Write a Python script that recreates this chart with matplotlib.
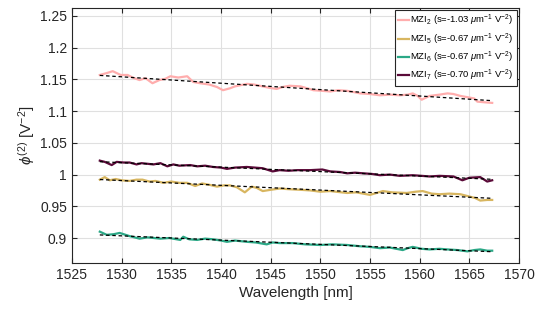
import numpy as np
import matplotlib.pyplot as plt

plt.rcParams['font.family'] = ['Liberation Sans', 'DejaVu Sans']
plt.rcParams['mathtext.fontset'] = 'custom'
plt.rcParams['mathtext.rm'] = 'Liberation Sans'
plt.rcParams['mathtext.it'] = 'Liberation Sans:italic'

# MZI2
wl_2 = [1527.8, 1528.5, 1529.1, 1529.9, 1530.6, 1531.1, 1531.8, 1532.4, 1533.1, 1533.8,
        1534.4, 1534.9, 1535.7, 1536.6, 1537.2, 1537.9, 1538.8, 1539.6, 1540.2, 1540.9,
        1541.4, 1542.0, 1542.6, 1543.3, 1543.9, 1544.8, 1545.6, 1546.2, 1546.9, 1548.0,
        1548.7, 1549.3, 1550.2, 1551.0, 1551.8, 1552.7, 1553.4, 1554.0, 1555.0, 1556.0,
        1557.0, 1558.0, 1558.8, 1559.3, 1559.8, 1560.2, 1561.0, 1562.0, 1562.8, 1563.4,
        1564.1, 1564.8, 1565.5, 1565.8, 1566.5, 1567.3]
phi_2 = [1.157, 1.160, 1.163, 1.157, 1.157, 1.153, 1.149, 1.152, 1.144, 1.149,
         1.151, 1.155, 1.153, 1.155, 1.146, 1.144, 1.142, 1.138, 1.133, 1.136,
         1.139, 1.141, 1.143, 1.142, 1.140, 1.137, 1.135, 1.138, 1.140, 1.139,
         1.136, 1.133, 1.132, 1.131, 1.133, 1.132, 1.130, 1.128, 1.127, 1.125,
         1.126, 1.125, 1.126, 1.128, 1.124, 1.118, 1.124, 1.126, 1.128, 1.127,
         1.124, 1.122, 1.120, 1.115, 1.114, 1.113]

# MZI5
wl_5 = [1527.8, 1528.3, 1528.8, 1529.4, 1530.0, 1530.8, 1531.5, 1532.1, 1532.8, 1533.4,
        1534.2, 1535.0, 1535.8, 1536.6, 1537.4, 1538.1, 1538.8, 1539.6, 1540.3, 1540.9,
        1541.6, 1542.4, 1543.1, 1543.6, 1544.2, 1545.0, 1545.9, 1546.8, 1548.0, 1549.0,
        1550.0, 1551.0, 1552.7, 1553.6, 1555.0, 1556.3, 1557.2, 1558.7, 1559.6, 1560.3,
        1561.2, 1562.0, 1563.0, 1564.1, 1565.1, 1565.6, 1566.1, 1566.8, 1567.3]
phi_5 = [0.992, 0.996, 0.991, 0.993, 0.991, 0.990, 0.992, 0.992, 0.989, 0.990,
         0.987, 0.989, 0.987, 0.987, 0.982, 0.986, 0.984, 0.981, 0.983, 0.983,
         0.980, 0.972, 0.981, 0.979, 0.974, 0.976, 0.978, 0.977, 0.976, 0.975,
         0.973, 0.974, 0.971, 0.972, 0.968, 0.974, 0.972, 0.971, 0.973, 0.974,
         0.970, 0.969, 0.970, 0.969, 0.965, 0.963, 0.959, 0.960, 0.960]

# MZI6
wl_6 = [1527.8, 1528.5, 1529.2, 1529.8, 1530.8, 1531.8, 1532.6, 1533.9, 1534.8, 1535.9,
        1536.2, 1536.8, 1537.6, 1538.4, 1539.2, 1540.0, 1540.6, 1541.4, 1542.6, 1543.5,
        1544.6, 1545.2, 1545.9, 1547.2, 1548.5, 1550.0, 1551.2, 1552.7, 1554.0, 1555.0,
        1556.0, 1557.0, 1558.3, 1558.8, 1559.3, 1560.2, 1561.0, 1562.0, 1562.8, 1563.8,
        1564.8, 1565.5, 1566.1, 1566.8, 1567.3]
phi_6 = [0.910, 0.905, 0.906, 0.908, 0.903, 0.899, 0.901, 0.899, 0.900, 0.897,
         0.902, 0.898, 0.897, 0.899, 0.898, 0.896, 0.894, 0.896, 0.894, 0.893,
         0.890, 0.893, 0.892, 0.892, 0.890, 0.889, 0.890, 0.889, 0.887, 0.886,
         0.884, 0.885, 0.881, 0.884, 0.886, 0.883, 0.882, 0.883, 0.882, 0.881,
         0.879, 0.881, 0.882, 0.880, 0.880]

# MZI7
wl_7 = [1527.8, 1528.3, 1529.0, 1529.5, 1530.2, 1530.8, 1531.5, 1532.0, 1532.6, 1533.2,
        1533.9, 1534.6, 1535.2, 1535.8, 1536.9, 1537.6, 1538.4, 1539.2, 1540.0, 1540.6,
        1541.4, 1542.6, 1543.4, 1544.2, 1544.8, 1545.2, 1545.9, 1546.8, 1547.7, 1549.0,
        1550.2, 1551.0, 1552.0, 1552.7, 1553.5, 1554.3, 1555.2, 1556.0, 1557.0, 1558.0,
        1559.3, 1560.2, 1561.0, 1562.0, 1563.4, 1564.3, 1565.0, 1566.1, 1566.8, 1567.3]
phi_7 = [1.022, 1.020, 1.015, 1.020, 1.019, 1.019, 1.016, 1.018, 1.017, 1.016,
         1.018, 1.013, 1.016, 1.014, 1.015, 1.013, 1.014, 1.012, 1.011, 1.009,
         1.011, 1.012, 1.011, 1.010, 1.007, 1.005, 1.007, 1.006, 1.007, 1.007,
         1.008, 1.005, 1.004, 1.002, 1.003, 1.002, 1.001, 0.999, 1.000, 0.998,
         0.999, 0.998, 0.997, 0.998, 0.997, 0.991, 0.995, 0.996, 0.989, 0.991]

series = [
    (wl_2, phi_2, '#FFADAD', 'MZI$_2$ (s=-1.03 $\\mu$m$^{-1}$ V$^{-2}$)'),
    (wl_5, phi_5, '#D8B660', 'MZI$_5$ (s=-0.67 $\\mu$m$^{-1}$ V$^{-2}$)'),
    (wl_6, phi_6, '#2BA886', 'MZI$_6$ (s=-0.67 $\\mu$m$^{-1}$ V$^{-2}$)'),
    (wl_7, phi_7, '#5A0A38', 'MZI$_7$ (s=-0.70 $\\mu$m$^{-1}$ V$^{-2}$)'),
]

fig = plt.figure(figsize=(5.38, 3.16), dpi=100)
ax = fig.add_axes([0.1338, 0.1677, 0.8309, 0.807])

handles = []
for wl, phi, col, lab in series:
    wl = np.array(wl)
    h, = ax.plot(wl, phi, color=col, lw=1.6, label=lab, zorder=2)
    handles.append(h)
    p = np.polyfit(wl, phi, 1)
    ax.plot(wl, np.polyval(p, wl), color='black', ls=(0, (2.8, 2.2)), lw=0.9, zorder=3)

ax.set_xlim(1525, 1570)
ax.set_ylim(0.8606, 1.2626)
ax.set_xticks(np.arange(1525, 1571, 5))
ax.set_yticks([0.9, 0.95, 1.0, 1.05, 1.1, 1.15, 1.2, 1.25])
ax.set_yticklabels(['0.9', '0.95', '1', '1.05', '1.1', '1.15', '1.2', '1.25'])
ax.grid(True, color='#e0e0e0', lw=0.8)
ax.set_axisbelow(True)
ax.tick_params(direction='in', length=3.5, width=0.8, top=True, right=True,
               labelsize=10, colors='#262626')
for sp in ax.spines.values():
    sp.set_color('#262626')
    sp.set_linewidth(0.8)

ax.set_xlabel('Wavelength [nm]', fontsize=11, color='#262626', labelpad=3)
ax.set_ylabel('$\\phi^{(2)}$ [V$^{-2}$]', fontsize=11, color='#262626', labelpad=2)

leg = ax.legend(handles=handles, loc='upper right', fontsize=6.8, handlelength=1.1,
                handletextpad=0.2, borderpad=0.3, labelspacing=0.3,
                borderaxespad=0.25, fancybox=False, framealpha=1)
leg.get_frame().set_edgecolor('#262626')
leg.get_frame().set_linewidth(0.8)

fig.savefig('out.png', dpi=100)
